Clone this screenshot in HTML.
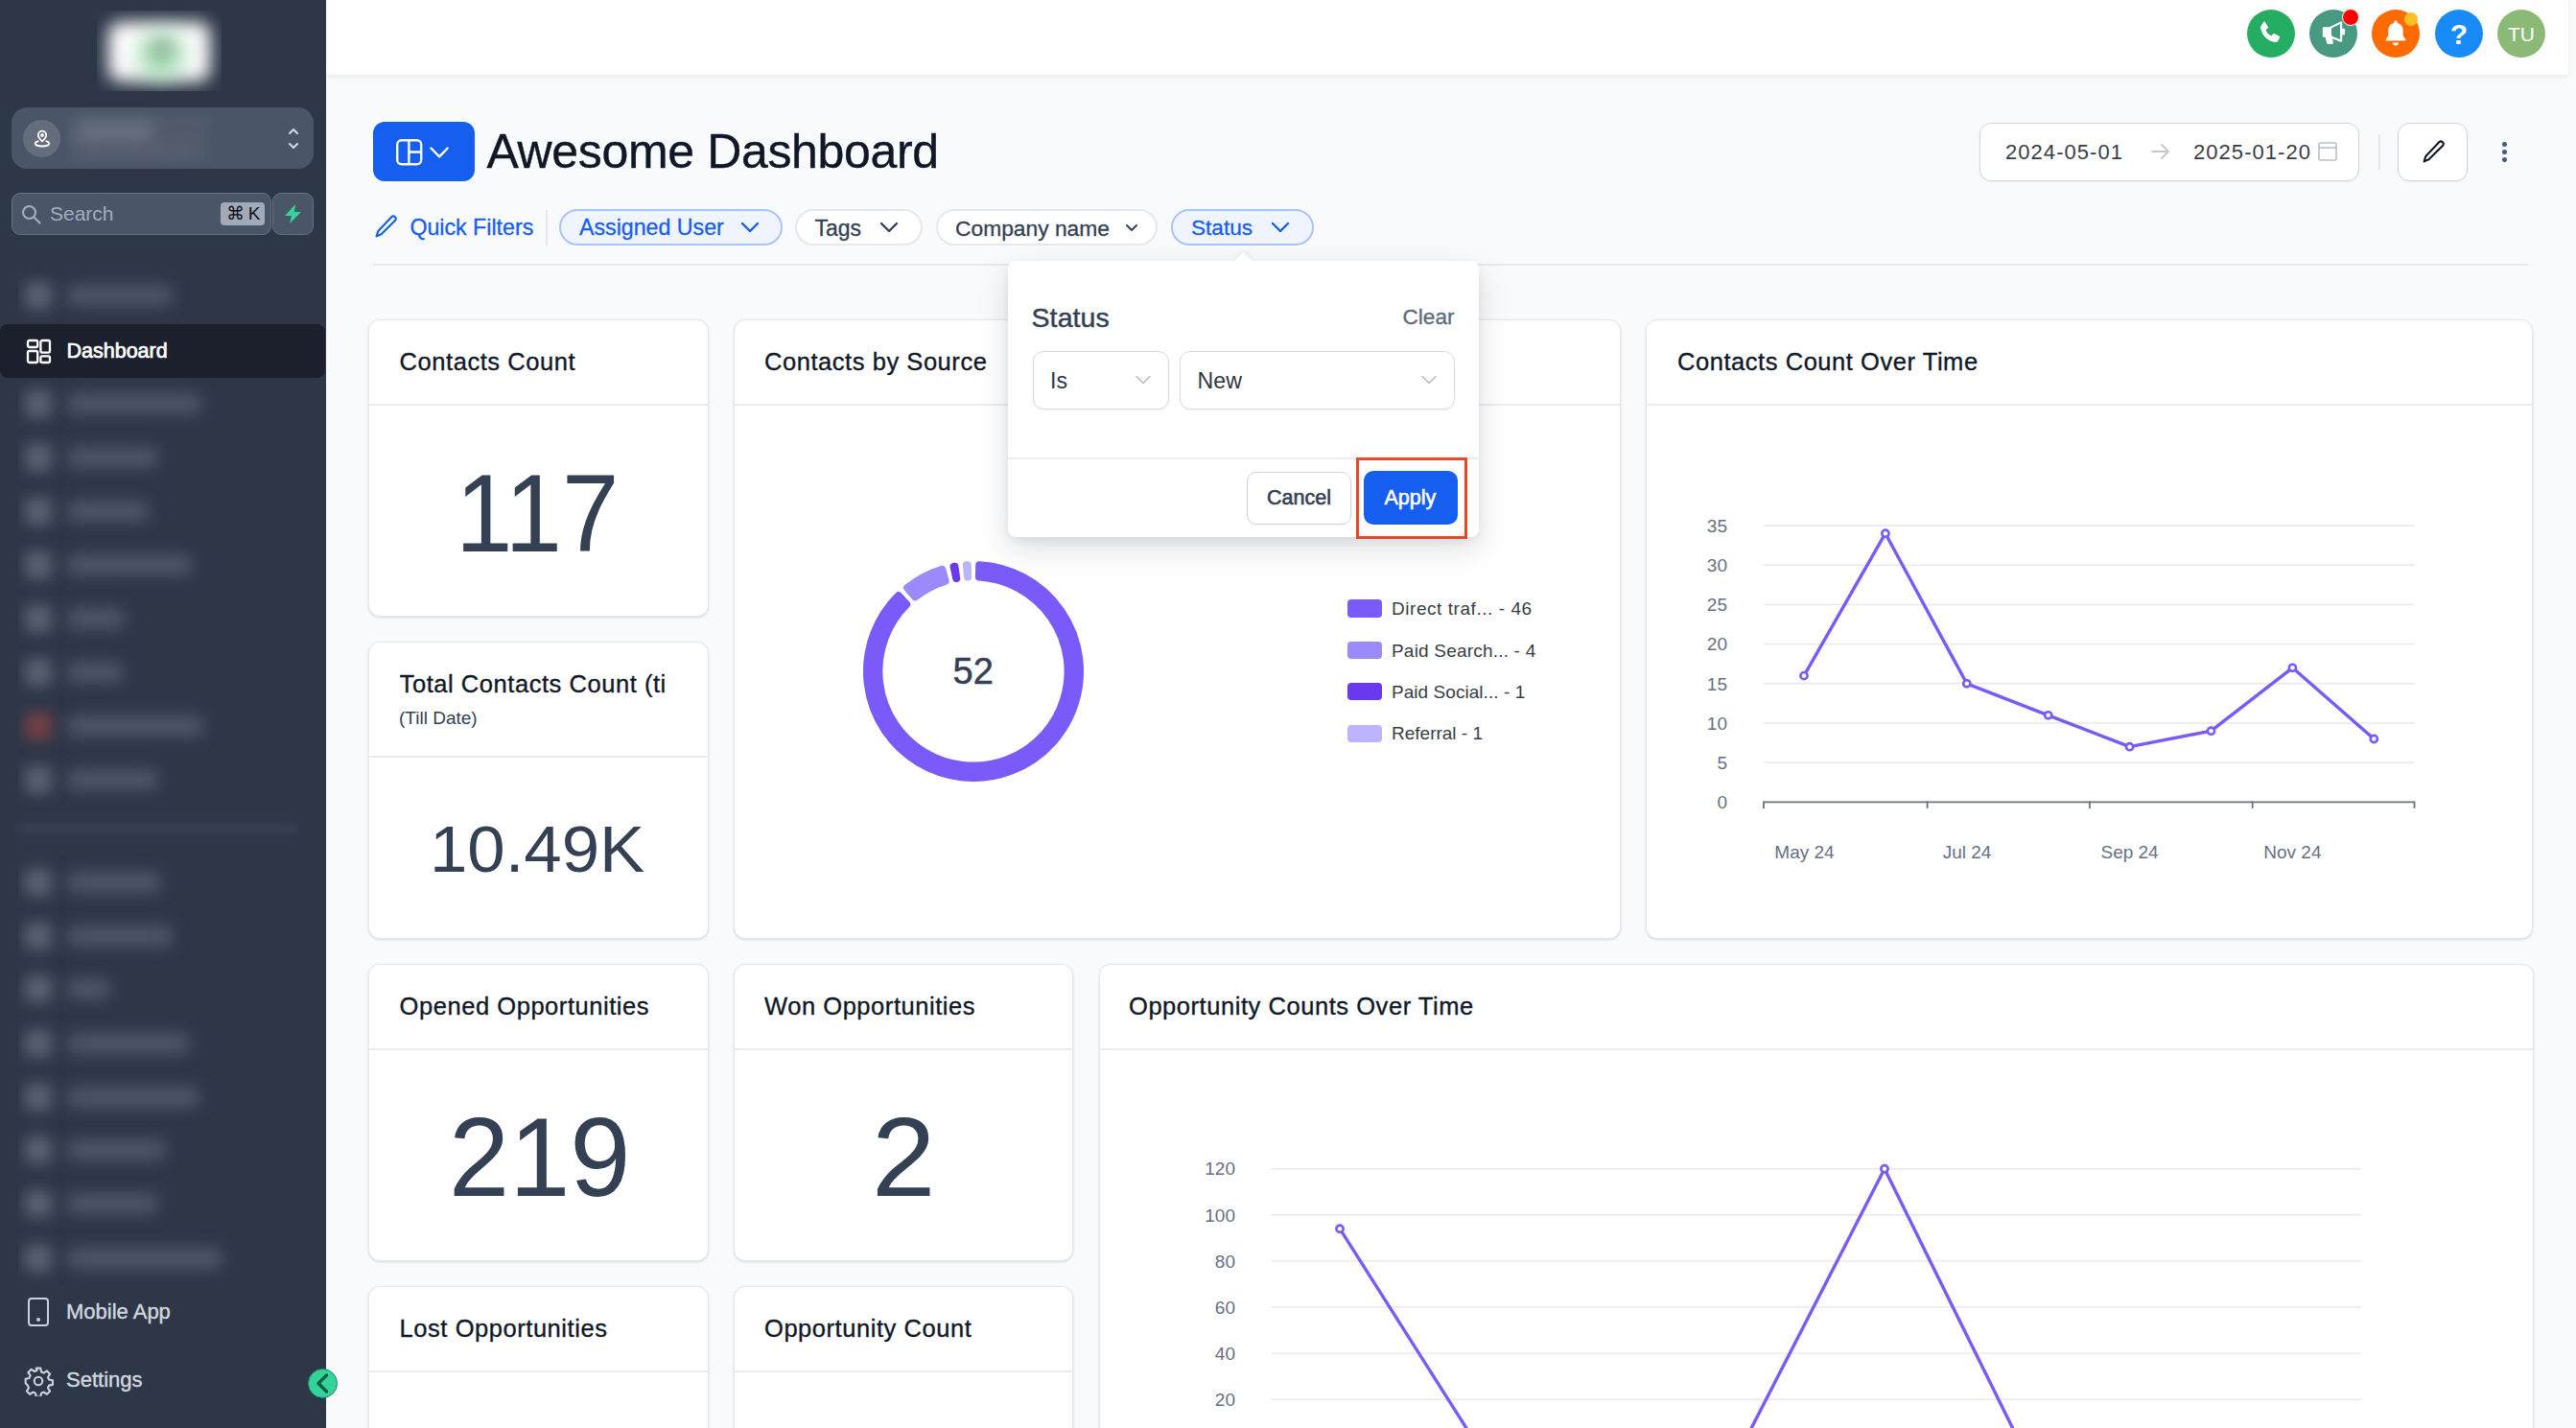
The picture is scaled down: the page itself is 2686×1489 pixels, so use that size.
<!DOCTYPE html>
<html><head><meta charset="utf-8"><style>
*{box-sizing:border-box;margin:0;padding:0}
html,body{width:2686px;height:1489px;overflow:hidden;background:#f9fafb;font-family:"Liberation Sans",sans-serif}
.abs{position:absolute}
.t{position:absolute;white-space:nowrap;line-height:1}
.card{position:absolute;background:#fff;border:1.5px solid #e6e8ec;border-radius:12px;box-shadow:0 1px 3px rgba(16,24,40,.09),0 1px 2px rgba(16,24,40,.05)}
.card .hd{position:absolute;left:0;right:0;top:0;border-bottom:2px solid #eaecf0}
.pill{position:absolute;height:38px;border-radius:19px;border:2px solid #e6e8ec;background:#fff}
.pill.on{background:#eff4ff;border:2px solid #abc2fc}
</style></head><body>
<div class="abs" style="left:0;top:0;width:340px;height:1489px;background:#2d3748"></div>
<div class="abs" style="left:101px;top:11px;width:130px;height:84px;overflow:hidden;background:#2d3748"><div class="abs" style="left:12px;top:12px;width:106px;height:62px;background:#fff;filter:blur(9px);border-radius:12px"></div><div class="abs" style="left:44px;top:24px;width:46px;height:46px;background:#94d4a6;filter:blur(12px);border-radius:50%"></div><div class="abs" style="left:56px;top:30px;width:24px;height:16px;background:#8a9a90;filter:blur(8px);border-radius:50%;opacity:.6"></div></div>
<div class="abs" style="left:12px;top:112px;width:315px;height:64px;background:#4a5568;border-radius:16px"></div>
<div class="abs" style="left:24px;top:125px;width:39px;height:39px;background:#646d7b;border-radius:50%"></div>
<svg class="abs" style="left:33px;top:134px" width="22" height="22" viewBox="0 0 22 22" fill="none" stroke="#fff" stroke-width="1.8"><path d="M11 13.5c-2.5-2.6-4.2-4.6-4.2-6.6a4.2 4.2 0 0 1 8.4 0c0 2-1.7 4-4.2 6.6z"/><circle cx="11" cy="6.9" r="1" fill="#fff"/><path d="M7.3 13.2c-2.3.5-3.6 1.4-3.6 2.5 0 1.6 3.3 2.8 7.3 2.8s7.3-1.2 7.3-2.8c0-1.1-1.3-2-3.6-2.5"/></svg>
<div class="abs" style="left:71px;top:120px;width:148px;height:50px;background:#505a69;filter:blur(3px)"></div>
<div class="abs" style="left:80px;top:128px;width:80px;height:22px;background:#6b7482;filter:blur(9px)"></div>
<div class="abs" style="left:84px;top:150px;width:120px;height:14px;background:#566070;filter:blur(8px)"></div>
<svg class="abs" style="left:299px;top:131px" width="14" height="27" viewBox="0 0 14 27" fill="none" stroke="#d6dae1" stroke-width="2" stroke-linecap="round" stroke-linejoin="round"><path d="M3 8l4-4 4 4M3 19l4 4 4-4"/></svg>
<div class="abs" style="left:12px;top:201px;width:271px;height:44px;background:#4a5568;border:1.5px solid #677184;border-radius:9px"></div>
<svg class="abs" style="left:22px;top:213px" width="22" height="22" viewBox="0 0 22 22" fill="none" stroke="#a0aec0" stroke-width="2.2" stroke-linecap="round"><circle cx="8.5" cy="8.5" r="6.5"/><path d="M13.5 13.5l6 6"/></svg>
<div class="t" style="left:52px;top:212.22px;font-size:21px;color:#a0aec0;">Search</div>
<div class="abs" style="left:230px;top:211px;width:46px;height:24px;background:#a0aab8;border-radius:4px"></div>
<div class="t" style="left:236px;top:213.42px;font-size:19px;color:#111;">&#8984;&thinsp;K</div>
<div class="abs" style="left:284px;top:201px;width:43px;height:44px;background:#4a5568;border:1.5px solid #677184;border-radius:9px"></div>
<svg class="abs" style="left:296px;top:213px" width="19" height="20" viewBox="0 0 19 20"><path d="M12 0L1 12h7l-2 8 12-12h-7z" fill="#34d399"/></svg>
<div class="abs" style="left:0;top:338px;width:339px;height:56px;background:#1b202c;border-radius:8px"></div>
<svg class="abs" style="left:26px;top:352px" width="28" height="28" viewBox="0 0 28 28" fill="none" stroke="#fff" stroke-width="2.3"><rect x="3" y="3" width="10.2" height="7" rx="1.5"/><rect x="16.4" y="3" width="9.6" height="12.6" rx="1.5"/><rect x="3" y="14" width="10.2" height="12" rx="1.5"/><rect x="16.4" y="19.4" width="9.6" height="6.6" rx="1.5"/></svg>
<div class="t" style="left:69.5px;top:355.60px;font-size:21.5px;color:#fff;-webkit-text-stroke:0.7px #fff">Dashboard</div>
<div class="abs" style="left:19px;top:284px;width:300px;height:53px;overflow:hidden">
<div class="abs" style="left:7px;top:10px;width:28px;height:28px;background:#5b6473;filter:blur(8px);border-radius:6px"></div>
<div class="abs" style="left:51px;top:13px;width:110px;height:22px;background:#4d5667;filter:blur(8px);border-radius:8px"></div>
</div>
<div class="abs" style="left:19px;top:395px;width:300px;height:945px;overflow:hidden">
<div class="abs" style="left:7px;top:12px;width:28px;height:28px;background:#5b6473;filter:blur(8px);border-radius:6px"></div>
<div class="abs" style="left:51px;top:15px;width:140px;height:22px;background:#4d5667;filter:blur(8px);border-radius:8px"></div>
<div class="abs" style="left:7px;top:68px;width:28px;height:28px;background:#5b6473;filter:blur(8px);border-radius:6px"></div>
<div class="abs" style="left:51px;top:71px;width:95px;height:22px;background:#4d5667;filter:blur(8px);border-radius:8px"></div>
<div class="abs" style="left:7px;top:124px;width:28px;height:28px;background:#5b6473;filter:blur(8px);border-radius:6px"></div>
<div class="abs" style="left:51px;top:127px;width:85px;height:22px;background:#4d5667;filter:blur(8px);border-radius:8px"></div>
<div class="abs" style="left:7px;top:180px;width:28px;height:28px;background:#5b6473;filter:blur(8px);border-radius:6px"></div>
<div class="abs" style="left:51px;top:183px;width:130px;height:22px;background:#4d5667;filter:blur(8px);border-radius:8px"></div>
<div class="abs" style="left:7px;top:236px;width:28px;height:28px;background:#5b6473;filter:blur(8px);border-radius:6px"></div>
<div class="abs" style="left:51px;top:239px;width:60px;height:22px;background:#4d5667;filter:blur(8px);border-radius:8px"></div>
<div class="abs" style="left:7px;top:292px;width:28px;height:28px;background:#5b6473;filter:blur(8px);border-radius:6px"></div>
<div class="abs" style="left:51px;top:295px;width:58px;height:22px;background:#4d5667;filter:blur(8px);border-radius:8px"></div>
<div class="abs" style="left:7px;top:348px;width:28px;height:28px;background:#7a4047;filter:blur(8px);border-radius:6px"></div>
<div class="abs" style="left:51px;top:351px;width:142px;height:22px;background:#4d5667;filter:blur(8px);border-radius:8px"></div>
<div class="abs" style="left:7px;top:404px;width:28px;height:28px;background:#5b6473;filter:blur(8px);border-radius:6px"></div>
<div class="abs" style="left:51px;top:407px;width:95px;height:22px;background:#4d5667;filter:blur(8px);border-radius:8px"></div>
<div class="abs" style="left:7px;top:511px;width:28px;height:28px;background:#5b6473;filter:blur(8px);border-radius:6px"></div>
<div class="abs" style="left:51px;top:514px;width:98px;height:22px;background:#4d5667;filter:blur(8px);border-radius:8px"></div>
<div class="abs" style="left:7px;top:567px;width:28px;height:28px;background:#5b6473;filter:blur(8px);border-radius:6px"></div>
<div class="abs" style="left:51px;top:570px;width:110px;height:22px;background:#4d5667;filter:blur(8px);border-radius:8px"></div>
<div class="abs" style="left:7px;top:622px;width:28px;height:28px;background:#5b6473;filter:blur(8px);border-radius:6px"></div>
<div class="abs" style="left:51px;top:625px;width:45px;height:22px;background:#4d5667;filter:blur(8px);border-radius:8px"></div>
<div class="abs" style="left:7px;top:679px;width:28px;height:28px;background:#5b6473;filter:blur(8px);border-radius:6px"></div>
<div class="abs" style="left:51px;top:682px;width:128px;height:22px;background:#4d5667;filter:blur(8px);border-radius:8px"></div>
<div class="abs" style="left:7px;top:735px;width:28px;height:28px;background:#5b6473;filter:blur(8px);border-radius:6px"></div>
<div class="abs" style="left:51px;top:738px;width:138px;height:22px;background:#4d5667;filter:blur(8px);border-radius:8px"></div>
<div class="abs" style="left:7px;top:790px;width:28px;height:28px;background:#5b6473;filter:blur(8px);border-radius:6px"></div>
<div class="abs" style="left:51px;top:793px;width:103px;height:22px;background:#4d5667;filter:blur(8px);border-radius:8px"></div>
<div class="abs" style="left:7px;top:846px;width:28px;height:28px;background:#5b6473;filter:blur(8px);border-radius:6px"></div>
<div class="abs" style="left:51px;top:849px;width:95px;height:22px;background:#4d5667;filter:blur(8px);border-radius:8px"></div>
<div class="abs" style="left:7px;top:903px;width:28px;height:28px;background:#5b6473;filter:blur(8px);border-radius:6px"></div>
<div class="abs" style="left:51px;top:906px;width:162px;height:22px;background:#4d5667;filter:blur(8px);border-radius:8px"></div>
</div>
<div class="abs" style="left:20px;top:860px;width:290px;height:8px;background:#3a4455;filter:blur(4px)"></div>
<svg class="abs" style="left:28px;top:1352px" width="24" height="32" viewBox="0 0 24 32" fill="none" stroke="#cbd2dc" stroke-width="2"><rect x="2" y="2" width="20" height="28" rx="3"/><circle cx="12" cy="24" r="1" fill="#cbd2dc"/></svg>
<div class="t" style="left:69px;top:1357.38px;font-size:22px;color:#d2d7de;-webkit-text-stroke:0.4px #d2d7de">Mobile App</div>
<svg class="abs" style="left:24px;top:1424px" width="32" height="32" viewBox="0 0 24 24" fill="none" stroke="#cbd2dc" stroke-width="1.6" stroke-linejoin="round"><path d="M10.3 2h3.4l.6 2.9 1.9.8 2.5-1.6 2.4 2.4-1.6 2.5.8 1.9 2.9.6v3.4l-2.9.6-.8 1.9 1.6 2.5-2.4 2.4-2.5-1.6-1.9.8-.6 2.9h-3.4l-.6-2.9-1.9-.8-2.5 1.6-2.4-2.4 1.6-2.5-.8-1.9L2 13.7v-3.4l2.9-.6.8-1.9-1.6-2.5 2.4-2.4 2.5 1.6 1.9-.8z"/><circle cx="12" cy="12" r="3.2"/></svg>
<div class="t" style="left:69px;top:1428.38px;font-size:22px;color:#d2d7de;-webkit-text-stroke:0.4px #d2d7de">Settings</div>
<div class="abs" style="left:321px;top:1427px;width:31px;height:31px;border-radius:50%;background:#34d399;border:1px solid #1d8a62"></div>
<svg class="abs" style="left:327px;top:1431px" width="18" height="23" viewBox="0 0 18 23" fill="none" stroke="#065f46" stroke-width="3.4" stroke-linecap="round" stroke-linejoin="round"><path d="M13.5 3L5 11.5l8.5 8.5"/></svg>
<div class="abs" style="left:340px;top:0;width:2338px;height:78px;background:#fff;box-shadow:0 2px 4px rgba(16,24,40,.08)"></div>
<div class="abs" style="left:2343px;top:10px;width:50px;height:50px;border-radius:50%;background:#25ad63"></div>
<svg class="abs" style="left:2352px;top:20px" width="30" height="30" viewBox="0 0 24 24"><path fill="#fff" d="M6.6 2.2c.6-.3 1.3-.1 1.6.5l1.9 3.4c.3.6.2 1.3-.3 1.7L8.4 9c.9 2.2 2.5 3.9 4.7 4.9l1.2-1.5c.4-.5 1.1-.6 1.7-.3l3.4 1.9c.6.3.8 1 .5 1.6l-1.2 2.3c-.5 1-1.6 1.5-2.7 1.3C9.6 18.1 5.2 13.6 4.1 7.2c-.2-1.1.3-2.1 1.2-2.7z"/></svg>
<div class="abs" style="left:2408px;top:10px;width:50px;height:50px;border-radius:50%;background:#479981"></div>
<svg class="abs" style="left:2418px;top:19px" width="30" height="28" viewBox="0 0 30 28" fill="none" stroke="#fff" stroke-width="3.2" stroke-linejoin="round" stroke-linecap="round"><path d="M5 10.5h6l12-6v19l-12-5H5z" fill="#fff" stroke-width="2.5"/><path d="M13 10.5l9-4.5v16l-9-3.5z" fill="#479981" stroke="none"/><path d="M8 19l1.8 6.5h3.5L12 19" fill="#fff"/><path d="M25.5 12v4"/></svg>
<div class="abs" style="left:2441.5px;top:9px;width:18px;height:18px;border-radius:50%;background:#ff0000;border:1.5px solid #fff"></div>
<div class="abs" style="left:2473px;top:10px;width:50px;height:50px;border-radius:50%;background:#ff6b00"></div>
<svg class="abs" style="left:2485px;top:20px" width="26" height="30" viewBox="0 0 26 30"><path fill="#fff" d="M13 1.5c1 0 1.7.8 1.7 1.7v.8c3.6.8 6 3.9 6 7.6v5.6l2.6 3.8c.4.6 0 1.5-.8 1.5H3.5c-.8 0-1.2-.9-.8-1.5l2.6-3.8v-5.6c0-3.7 2.4-6.8 6-7.6v-.8c0-.9.7-1.7 1.7-1.7z"/><path fill="#fff" d="M10 24.5h6c0 1.7-1.3 3-3 3s-3-1.3-3-3z"/></svg>
<div class="abs" style="left:2507px;top:13px;width:14px;height:14px;border-radius:50%;background:#fbbf24"></div>
<div class="abs" style="left:2539px;top:10px;width:50px;height:50px;border-radius:50%;background:#188bf6"></div>
<div class="t" style="left:2553px;top:20.61px;font-size:30px;color:#fff;width:22px;text-align:center;font-weight:700">?</div>
<div class="abs" style="left:2604px;top:10px;width:50px;height:50px;border-radius:50%;background:#8bba76"></div>
<div class="t" style="left:2604px;top:24.72px;font-size:21px;color:#fff;width:50px;text-align:center;">TU</div>
<div class="abs" style="left:389px;top:127px;width:106px;height:62px;background:#155eef;border-radius:12px"></div>
<svg class="abs" style="left:411px;top:144px" width="32" height="30" viewBox="0 0 32 30" fill="none" stroke="#fff" stroke-width="2.4"><rect x="3.2" y="2.2" width="25" height="25" rx="4.5"/><path d="M15.4 2.2v25M15.4 14.5h12.8"/></svg>
<svg class="abs" style="left:446px;top:150px" width="24" height="18" viewBox="0 0 24 18" fill="none" stroke="#fff" stroke-width="2.4" stroke-linecap="round" stroke-linejoin="round"><path d="M3.5 4.5l8.6 8.8 8.6-8.8"/></svg>
<div class="t" style="left:507.5px;top:133.48px;font-size:50px;color:#101828;letter-spacing:-0.35px;-webkit-text-stroke:0.4px #101828">Awesome Dashboard</div>
<div class="abs" style="left:2064px;top:128px;width:396px;height:61px;background:#fff;border:1.5px solid #d0d5dd;border-radius:12px;box-shadow:0 1px 2px rgba(16,24,40,.05)"></div>
<div class="t" style="left:2091px;top:148.18px;font-size:22px;color:#383e48;letter-spacing:1.05px">2024-05-01</div>
<svg class="abs" style="left:2242px;top:148px" width="22" height="20" viewBox="0 0 22 20" fill="none" stroke="#c3c7ce" stroke-width="1.8" stroke-linecap="round" stroke-linejoin="round"><path d="M2 10h17M12 3l7 7-7 7"/></svg>
<div class="t" style="left:2287px;top:148.18px;font-size:22px;color:#383e48;letter-spacing:1.05px">2025-01-20</div>
<svg class="abs" style="left:2416px;top:147px" width="22" height="22" viewBox="0 0 22 22" fill="none" stroke="#b9bec7" stroke-width="1.6"><rect x="2" y="2" width="18" height="18" rx="2"/><path d="M2 7h18"/></svg>
<div class="abs" style="left:2480px;top:140px;width:1.5px;height:37px;background:#e4e7ec"></div>
<div class="abs" style="left:2500px;top:128px;width:73px;height:61px;background:#fff;border:1.5px solid #d0d5dd;border-radius:12px;box-shadow:0 1px 2px rgba(16,24,40,.05)"></div>
<svg class="abs" style="left:2524px;top:145px" width="26" height="27" viewBox="0 0 26 27" fill="none" stroke="#101828" stroke-width="2.1" stroke-linecap="round" stroke-linejoin="round"><path d="M19.2 3.2a2.6 2.6 0 0 1 3.7 3.7L8.5 21.3 3.6 23.4 5.3 18z"/></svg>
<div class="abs" style="left:2609px;top:148px;width:4.5px;height:4.5px;border-radius:50%;background:#4e5a7a"></div>
<div class="abs" style="left:2609px;top:156px;width:4.5px;height:4.5px;border-radius:50%;background:#4e5a7a"></div>
<div class="abs" style="left:2609px;top:164px;width:4.5px;height:4.5px;border-radius:50%;background:#4e5a7a"></div>
<svg class="abs" style="left:389px;top:223px" width="26" height="27" viewBox="0 0 26 27" fill="none" stroke="#155eef" stroke-width="2.1" stroke-linecap="round" stroke-linejoin="round"><path d="M19.2 3.2a2.6 2.6 0 0 1 3.7 3.7L8.5 21.3 3.6 23.4 5.3 18z"/></svg>
<div class="t" style="left:427.4px;top:225.66px;font-size:23.2px;color:#155eef;-webkit-text-stroke:0.3px #155eef">Quick Filters</div>
<div class="abs" style="left:569px;top:219px;width:1.5px;height:37px;background:#e4e7ec"></div>
<div class="pill on" style="left:583px;top:218px;width:233px"></div>
<div class="t" style="left:604px;top:226.36px;font-size:23.2px;color:#155eef;-webkit-text-stroke:0.3px #155eef">Assigned User</div>
<svg class="abs" style="left:771px;top:229px" width="22" height="16" viewBox="0 0 22 16" fill="none" stroke="#155eef" stroke-width="2.4" stroke-linecap="round" stroke-linejoin="round"><path d="M3 4l8 8 8-8"/></svg>
<div class="pill" style="left:829px;top:218px;width:133px"></div>
<div class="t" style="left:849.5px;top:226.53px;font-size:23px;color:#344054;-webkit-text-stroke:0.3px #344054">Tags</div>
<svg class="abs" style="left:916px;top:229px" width="22" height="16" viewBox="0 0 22 16" fill="none" stroke="#344054" stroke-width="2.4" stroke-linecap="round" stroke-linejoin="round"><path d="M3 4l8 8 8-8"/></svg>
<div class="pill" style="left:976px;top:218px;width:231px"></div>
<div class="t" style="left:996px;top:226.70px;font-size:22.8px;color:#344054;-webkit-text-stroke:0.3px #344054">Company name</div>
<svg class="abs" style="left:1172px;top:231px" width="16" height="14" viewBox="0 0 16 14" fill="none" stroke="#344054" stroke-width="2" stroke-linecap="round" stroke-linejoin="round"><path d="M3 4l5 5 5-5"/></svg>
<div class="pill on" style="left:1221px;top:218px;width:149px"></div>
<div class="t" style="left:1242px;top:226.87px;font-size:22.6px;color:#155eef;-webkit-text-stroke:0.3px #155eef">Status</div>
<svg class="abs" style="left:1324px;top:229px" width="22" height="16" viewBox="0 0 22 16" fill="none" stroke="#155eef" stroke-width="2.4" stroke-linecap="round" stroke-linejoin="round"><path d="M3 4l8 8 8-8"/></svg>
<div class="abs" style="left:389px;top:275px;width:2247px;height:2px;background:#e6e8ec"></div>
<div class="card" style="left:384px;top:333px;width:355px;height:310px"><div class="hd" style="height:89px"></div></div>
<div class="t" style="left:416.6px;top:365.41px;font-size:25.5px;color:#101828;letter-spacing:0.55px;-webkit-text-stroke:0.35px #101828;">Contacts Count</div>
<div class="t" style="left:475px;top:478.45px;font-size:115px;color:#344054;transform-origin:0 0;transform:scaleX(0.93)">117</div>
<div class="card" style="left:384px;top:669px;width:355px;height:310px"><div class="hd" style="height:120px"></div></div>
<div class="t" style="left:416.6px;top:701.41px;font-size:25.5px;color:#101828;letter-spacing:0.55px;-webkit-text-stroke:0.35px #101828;width:278px;overflow:hidden">Total Contacts Count (till Date)</div>
<div class="t" style="left:416px;top:738.92px;font-size:19px;color:#344054;">(Till Date)</div>
<div class="t" style="left:448px;top:851.71px;font-size:68.5px;color:#344054;transform-origin:0 0;transform:scaleX(1.033)">10.49K</div>
<div class="card" style="left:765px;top:333px;width:925px;height:646px"><div class="hd" style="height:89px"></div></div>
<div class="t" style="left:797px;top:365.41px;font-size:25.5px;color:#101828;letter-spacing:0.55px;-webkit-text-stroke:0.35px #101828;">Contacts by Source</div>
<div class="card" style="left:1716px;top:333px;width:925px;height:646px"><div class="hd" style="height:89px"></div></div>
<div class="t" style="left:1749px;top:365.41px;font-size:25.5px;color:#101828;letter-spacing:0.55px;-webkit-text-stroke:0.35px #101828;">Contacts Count Over Time</div>
<div class="card" style="left:384px;top:1005px;width:355px;height:310px"><div class="hd" style="height:89px"></div></div>
<div class="t" style="left:416.6px;top:1037.41px;font-size:25.5px;color:#101828;letter-spacing:0.55px;-webkit-text-stroke:0.35px #101828;">Opened Opportunities</div>
<div class="t" style="left:467.5px;top:1149.31px;font-size:116px;color:#344054;transform-origin:0 0;transform:scaleX(0.979)">219</div>
<div class="card" style="left:765px;top:1005px;width:354px;height:310px"><div class="hd" style="height:89px"></div></div>
<div class="t" style="left:797px;top:1037.41px;font-size:25.5px;color:#101828;letter-spacing:0.55px;-webkit-text-stroke:0.35px #101828;">Won Opportunities</div>
<div class="t" style="left:909px;top:1149.31px;font-size:116px;color:#344054;transform-origin:0 0;transform:scaleX(1.03)">2</div>
<div class="card" style="left:384px;top:1341px;width:355px;height:310px"><div class="hd" style="height:89px"></div></div>
<div class="t" style="left:416.6px;top:1373.41px;font-size:25.5px;color:#101828;letter-spacing:0.55px;-webkit-text-stroke:0.35px #101828;">Lost Opportunities</div>
<div class="card" style="left:765px;top:1341px;width:354px;height:310px"><div class="hd" style="height:89px"></div></div>
<div class="t" style="left:797px;top:1373.41px;font-size:25.5px;color:#101828;letter-spacing:0.55px;-webkit-text-stroke:0.35px #101828;">Opportunity Count</div>
<div class="card" style="left:1146px;top:1005px;width:1496px;height:700px"><div class="hd" style="height:89px"></div></div>
<div class="t" style="left:1177px;top:1037.41px;font-size:25.5px;color:#101828;letter-spacing:0.55px;-webkit-text-stroke:0.35px #101828;">Opportunity Counts Over Time</div>
<svg class="abs" style="left:0;top:0" width="2686" height="1489" viewBox="0 0 2686 1489">
<path d="M1021.22,589.17 A111,111 0 1 1 936.85,621.17 L945.26,630.29 A98.6,98.6 0 1 0 1020.98,601.58 Z" fill="#7a5af8" stroke="#7a5af8" stroke-width="8" stroke-linejoin="round"/>
<path d="M946.17,612.92 A111,111 0 0 1 982.43,593.88 L985.65,605.87 A98.6,98.6 0 0 0 954.21,622.37 Z" fill="#9b8afb" stroke="#9b8afb" stroke-width="8" stroke-linejoin="round"/>
<path d="M994.52,590.91 A111,111 0 0 1 995.46,590.73 L997.21,603.02 A98.6,98.6 0 0 0 997.25,603.01 Z" fill="#6938ef" stroke="#6938ef" stroke-width="8" stroke-linejoin="round"/>
<path d="M1007.82,589.23 A111,111 0 0 1 1008.78,589.17 L1009.02,601.58 A98.6,98.6 0 0 0 1009.07,601.58 Z" fill="#bdb4fe" stroke="#bdb4fe" stroke-width="8" stroke-linejoin="round"/>
<line x1="1839" y1="548.0" x2="2517.5" y2="548.0" stroke="#e4e8f1" stroke-width="1.4"/>
<line x1="1839" y1="589.2" x2="2517.5" y2="589.2" stroke="#e4e8f1" stroke-width="1.4"/>
<line x1="1839" y1="630.4" x2="2517.5" y2="630.4" stroke="#e4e8f1" stroke-width="1.4"/>
<line x1="1839" y1="671.6" x2="2517.5" y2="671.6" stroke="#e4e8f1" stroke-width="1.4"/>
<line x1="1839" y1="712.8" x2="2517.5" y2="712.8" stroke="#e4e8f1" stroke-width="1.4"/>
<line x1="1839" y1="754.0" x2="2517.5" y2="754.0" stroke="#e4e8f1" stroke-width="1.4"/>
<line x1="1839" y1="795.2" x2="2517.5" y2="795.2" stroke="#e4e8f1" stroke-width="1.4"/>
<line x1="1839" y1="836.4" x2="2517.5" y2="836.4" stroke="#6b7280" stroke-width="1.8"/>
<line x1="1839" y1="835.5" x2="1839" y2="842.9" stroke="#6b7280" stroke-width="1.8"/>
<line x1="2009.6" y1="835.5" x2="2009.6" y2="842.9" stroke="#6b7280" stroke-width="1.8"/>
<line x1="2178.9" y1="835.5" x2="2178.9" y2="842.9" stroke="#6b7280" stroke-width="1.8"/>
<line x1="2348.7" y1="835.5" x2="2348.7" y2="842.9" stroke="#6b7280" stroke-width="1.8"/>
<line x1="2517.5" y1="835.5" x2="2517.5" y2="842.9" stroke="#6b7280" stroke-width="1.8"/>
<polyline points="1881.0,704.6 1965.9,556.2 2050.8,712.8 2135.7,745.8 2220.6,778.7 2305.5,762.2 2390.4,696.3 2475.3,770.5" fill="none" stroke="#7a5af8" stroke-width="3.4" stroke-linejoin="round"/>
<circle cx="1881.0" cy="704.6" r="3.6" fill="#fff" stroke="#7a5af8" stroke-width="2.6"/>
<circle cx="1965.9" cy="556.2" r="3.6" fill="#fff" stroke="#7a5af8" stroke-width="2.6"/>
<circle cx="2050.8" cy="712.8" r="3.6" fill="#fff" stroke="#7a5af8" stroke-width="2.6"/>
<circle cx="2135.7" cy="745.8" r="3.6" fill="#fff" stroke="#7a5af8" stroke-width="2.6"/>
<circle cx="2220.6" cy="778.7" r="3.6" fill="#fff" stroke="#7a5af8" stroke-width="2.6"/>
<circle cx="2305.5" cy="762.2" r="3.6" fill="#fff" stroke="#7a5af8" stroke-width="2.6"/>
<circle cx="2390.4" cy="696.3" r="3.6" fill="#fff" stroke="#7a5af8" stroke-width="2.6"/>
<circle cx="2475.3" cy="770.5" r="3.6" fill="#fff" stroke="#7a5af8" stroke-width="2.6"/>
<line x1="1326" y1="1218.7" x2="2462" y2="1218.7" stroke="#e4e8f1" stroke-width="1.4"/>
<line x1="1326" y1="1266.8" x2="2462" y2="1266.8" stroke="#e4e8f1" stroke-width="1.4"/>
<line x1="1326" y1="1314.9" x2="2462" y2="1314.9" stroke="#e4e8f1" stroke-width="1.4"/>
<line x1="1326" y1="1363.0" x2="2462" y2="1363.0" stroke="#e4e8f1" stroke-width="1.4"/>
<line x1="1326" y1="1411.1" x2="2462" y2="1411.1" stroke="#e4e8f1" stroke-width="1.4"/>
<line x1="1326" y1="1459.2" x2="2462" y2="1459.2" stroke="#e4e8f1" stroke-width="1.4"/>
<line x1="1326" y1="1507.3" x2="2462" y2="1507.3" stroke="#e4e8f1" stroke-width="1.4"/>
<polyline points="1397.0,1281.2 1539.0,1504.9 1681.0,1506.1 1823.0,1495.3 1965.0,1218.7 2107.0,1506.1 2249.0,1500.1 2391.0,1502.5" fill="none" stroke="#7a5af8" stroke-width="3.4" stroke-linejoin="round"/>
<circle cx="1397.0" cy="1281.2" r="3.6" fill="#fff" stroke="#7a5af8" stroke-width="2.6"/>
<circle cx="1965.0" cy="1218.7" r="3.6" fill="#fff" stroke="#7a5af8" stroke-width="2.6"/>
</svg>
<div class="t" style="left:993.5px;top:681.13px;font-size:38px;color:#344054;letter-spacing:0px;-webkit-text-stroke:0.5px #344054">52</div>
<div class="abs" style="left:1405px;top:625.0px;width:36px;height:18.5px;border-radius:4px;background:#7a5af8"></div>
<div class="t" style="left:1451px;top:624.92px;font-size:19px;color:#383d46;letter-spacing:0.55px">Direct traf... - 46</div>
<div class="abs" style="left:1405px;top:668.6px;width:36px;height:18.5px;border-radius:4px;background:#9b8afb"></div>
<div class="t" style="left:1451px;top:668.52px;font-size:19px;color:#383d46;letter-spacing:0.2px">Paid Search... - 4</div>
<div class="abs" style="left:1405px;top:711.9px;width:36px;height:18.5px;border-radius:4px;background:#6938ef"></div>
<div class="t" style="left:1451px;top:711.82px;font-size:19px;color:#383d46;letter-spacing:0.05px">Paid Social... - 1</div>
<div class="abs" style="left:1405px;top:755.5px;width:36px;height:18.5px;border-radius:4px;background:#bdb4fe"></div>
<div class="t" style="left:1451px;top:755.42px;font-size:19px;color:#383d46;letter-spacing:0.0px">Referral - 1</div>
<div class="t" style="left:1700px;top:538.72px;font-size:19px;color:#667085;width:101px;text-align:right;">35</div>
<div class="t" style="left:1700px;top:579.92px;font-size:19px;color:#667085;width:101px;text-align:right;">30</div>
<div class="t" style="left:1700px;top:621.12px;font-size:19px;color:#667085;width:101px;text-align:right;">25</div>
<div class="t" style="left:1700px;top:662.32px;font-size:19px;color:#667085;width:101px;text-align:right;">20</div>
<div class="t" style="left:1700px;top:703.52px;font-size:19px;color:#667085;width:101px;text-align:right;">15</div>
<div class="t" style="left:1700px;top:744.72px;font-size:19px;color:#667085;width:101px;text-align:right;">10</div>
<div class="t" style="left:1700px;top:785.92px;font-size:19px;color:#667085;width:101px;text-align:right;">5</div>
<div class="t" style="left:1700px;top:827.12px;font-size:19px;color:#667085;width:101px;text-align:right;">0</div>
<div class="t" style="left:1781.5px;top:878.72px;font-size:19px;color:#667085;width:200px;text-align:center;">May 24</div>
<div class="t" style="left:1951px;top:878.72px;font-size:19px;color:#667085;width:200px;text-align:center;">Jul 24</div>
<div class="t" style="left:2120.6px;top:878.72px;font-size:19px;color:#667085;width:200px;text-align:center;">Sep 24</div>
<div class="t" style="left:2290.4px;top:878.72px;font-size:19px;color:#667085;width:200px;text-align:center;">Nov 24</div>
<div class="t" style="left:1188px;top:1209.42px;font-size:19px;color:#667085;width:100px;text-align:right;">120</div>
<div class="t" style="left:1188px;top:1257.52px;font-size:19px;color:#667085;width:100px;text-align:right;">100</div>
<div class="t" style="left:1188px;top:1305.62px;font-size:19px;color:#667085;width:100px;text-align:right;">80</div>
<div class="t" style="left:1188px;top:1353.72px;font-size:19px;color:#667085;width:100px;text-align:right;">60</div>
<div class="t" style="left:1188px;top:1401.82px;font-size:19px;color:#667085;width:100px;text-align:right;">40</div>
<div class="t" style="left:1188px;top:1449.92px;font-size:19px;color:#667085;width:100px;text-align:right;">20</div>
<div class="t" style="left:1188px;top:1498.02px;font-size:19px;color:#667085;width:100px;text-align:right;">0</div>
<svg class="abs" style="left:1280px;top:261px;filter:drop-shadow(0 -1px 3px rgba(16,24,40,.10))" width="32" height="12" viewBox="0 0 32 12"><path d="M7 11.5L16.3 2 25.5 11.5z" fill="#fff"/></svg>
<div class="abs" style="left:1051px;top:272px;width:491px;height:288px;background:#fff;border-radius:8px;box-shadow:0 12px 32px rgba(16,24,40,.14),0 4px 8px rgba(16,24,40,.06)"></div>
<svg class="abs" style="left:1280px;top:261px" width="32" height="12" viewBox="0 0 32 12"><path d="M7 11.5L16.3 2 25.5 11.5z" fill="#fff"/></svg>
<div class="t" style="left:1075.5px;top:317.17px;font-size:28.5px;color:#344054;letter-spacing:0.1px;-webkit-text-stroke:0.45px #344054">Status</div>
<div class="t" style="left:1462.5px;top:319.67px;font-size:22.6px;color:#5f6b80;-webkit-text-stroke:0.35px #5f6b80">Clear</div>
<div class="abs" style="left:1077px;top:366px;width:142px;height:61px;border:1.5px solid #d8dae2;border-radius:11px;background:#fff;box-shadow:0 1px 2px rgba(16,24,40,.05)"></div>
<div class="t" style="left:1095px;top:386.06px;font-size:23.2px;color:#2f3540;">Is</div>
<svg class="abs" style="left:1182px;top:389px" width="20" height="14" viewBox="0 0 20 14" fill="none" stroke="#b3b6bd" stroke-width="1.4" stroke-linecap="round" stroke-linejoin="round"><path d="M3 3.5l7 7 7-7"/></svg>
<div class="abs" style="left:1229.5px;top:366px;width:287px;height:61px;border:1.5px solid #d8dae2;border-radius:11px;background:#fff;box-shadow:0 1px 2px rgba(16,24,40,.05)"></div>
<div class="t" style="left:1248.5px;top:386.06px;font-size:23.2px;color:#2f3540;">New</div>
<svg class="abs" style="left:1480px;top:389px" width="20" height="14" viewBox="0 0 20 14" fill="none" stroke="#b3b6bd" stroke-width="1.4" stroke-linecap="round" stroke-linejoin="round"><path d="M3 3.5l7 7 7-7"/></svg>
<div class="abs" style="left:1051px;top:477px;width:491px;height:1.5px;background:#eaecf0"></div>
<div class="abs" style="left:1300px;top:491.5px;width:109px;height:55px;border:1.5px solid #d0d5dd;border-radius:10px;background:#fff;box-shadow:0 1px 2px rgba(16,24,40,.05)"></div>
<div class="t" style="left:1321px;top:508.80px;font-size:21.5px;color:#344054;-webkit-text-stroke:0.6px #344054">Cancel</div>
<div class="abs" style="left:1421.5px;top:491px;width:98.5px;height:55.5px;border-radius:10px;background:#155eef"></div>
<div class="t" style="left:1443.5px;top:508.80px;font-size:21.5px;color:#fff;-webkit-text-stroke:0.6px #fff">Apply</div>
<div class="abs" style="left:1414px;top:477px;width:116px;height:85px;border:3px solid #e8472b"></div>
</body></html>
